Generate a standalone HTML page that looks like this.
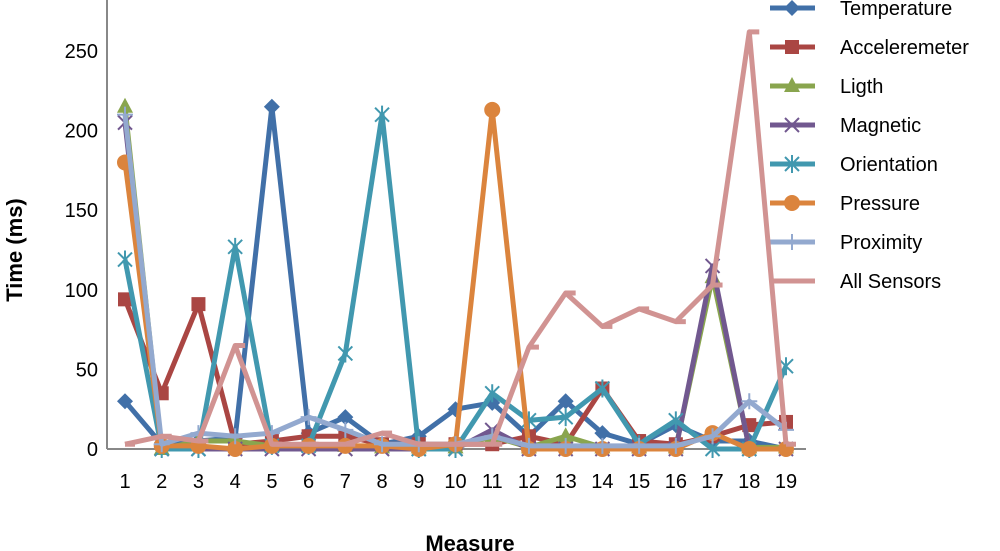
<!DOCTYPE html>
<html><head><meta charset="utf-8"><style>
body{margin:0;background:#fff;}
svg{display:block;font-family:"Liberation Sans",sans-serif;}
</style></head><body>
<svg id="chart" width="1000" height="551">
<g id="grid"></g>
</svg>
<script>
const categories=[1,2,3,4,5,6,7,8,9,10,11,12,13,14,15,16,17,18,19];
const yTicks=[0,50,100,150,200,250];
const seriesNames=["Temperature","Acceleremeter","Ligth","Magnetic","Orientation","Pressure","Proximity","All Sensors"];
const temperature=[30,3,5,7,215,10,20,3,8,25,29,8,30,10,3,15,5,5,0];
const accelerometer=[94,35,91,3,5,8,8,3,3,3,3,8,3,38,5,3,8,15,17];
const light=[215,0,5,5,2,2,2,1,1,1,8,1,8,1,1,1,108,1,1];
const magnetic=[205,0,0,0,0,0,0,0,0,0,12,0,0,0,0,0,115,0,0];
const orientation=[119,0,0,127,2,2,60,210,0,0,35,18,20,38,3,18,0,0,52];
const pressure=[180,2,2,0,2,2,2,2,0,3,213,0,0,0,0,0,10,0,0];
const proximity=[210,3,10,8,10,20,12,3,3,3,8,2,2,2,2,2,8,30,12];
const allSensors=[3,8,5,65,3,3,3,10,3,3,3,64,98,77,88,80,103,262,3];
const colors=["#4170a8","#aa4643","#89a54e","#71588f","#4198af","#db843d","#93a9cf","#d19392"];
const markers=["diamond","square","triangle","x","star","circle","plus","dash"];
const allData=[temperature,accelerometer,light,magnetic,orientation,pressure,proximity,allSensors];
const NS="http://www.w3.org/2000/svg";
const svg=document.getElementById("chart");
const X0=125,X1=786,Y0=449,Y250=51;
const xs=i=>X0+(X1-X0)*i/(categories.length-1);
const ys=v=>Y0-(Y0-Y250)*v/250;
function mk(tag,attrs,parent){const e=document.createElementNS(NS,tag);for(const k in attrs)e.setAttribute(k,attrs[k]);(parent||svg).appendChild(e);return e;}
let ax=mk("path",{d:`M107,${Y0}H806`,stroke:"#888","stroke-width":2,fill:"none"});


let ay=mk("path",{d:`M107,0V${Y0}`,stroke:"#888","stroke-width":2,fill:"none"});


yTicks.forEach(t=>{const e=mk("text",{x:98,y:ys(t)+7,"text-anchor":"end","font-size":20,fill:"#000"});e.textContent=t;

});
categories.forEach((c,i)=>{const e=mk("text",{x:xs(i),y:488,"text-anchor":"middle","font-size":20,fill:"#000"});e.textContent=c;

});
let yt=mk("text",{x:0,y:0,transform:"translate(22,250) rotate(-90)","text-anchor":"middle","font-size":22,"font-weight":"bold"});yt.textContent="Time (ms)";


let xt=mk("text",{x:470,y:551,"text-anchor":"middle","font-size":22,"font-weight":"bold"});xt.textContent="Measure";


function marker(g,type,x,y,c){
  if(type=="diamond")mk("path",{d:`M${x},${y-8}L${x+8},${y}L${x},${y+8}L${x-8},${y}Z`,fill:c},g);
  else if(type=="square")mk("rect",{x:x-7,y:y-7,width:14,height:14,fill:c},g);
  else if(type=="triangle")mk("path",{d:`M${x},${y-9}L${x+8},${y+6}L${x-8},${y+6}Z`,fill:c},g);
  else if(type=="x")mk("path",{d:`M${x-7},${y-7}L${x+7},${y+7}M${x+7},${y-7}L${x-7},${y+7}`,stroke:c,"stroke-width":2},g);
  else if(type=="star")mk("path",{d:`M${x-7},${y-7}L${x+7},${y+7}M${x+7},${y-7}L${x-7},${y+7}M${x},${y-9}V${y+9}`,stroke:c,"stroke-width":2},g);
  else if(type=="circle")mk("circle",{cx:x,cy:y,r:8,fill:c},g);
  else if(type=="plus")mk("path",{d:`M${x-8},${y}H${x+8}M${x},${y-8}V${y+8}`,stroke:c,"stroke-width":2},g);
  else if(type=="dash")mk("path",{d:`M${x},${y}H${x+10}`,stroke:c,"stroke-width":5},g);
}
allData.forEach((arr,s)=>{
  const g=mk("g",{});
  
  
  const d=arr.map((v,i)=>(i?"L":"M")+xs(i)+","+ys(v)).join("");
  mk("path",{d:d,stroke:colors[s],"stroke-width":5,fill:"none","stroke-linejoin":"round"},g);
  arr.forEach((v,i)=>marker(g,markers[s],xs(i),ys(v),colors[s]));
  const ly=8+39*s;
  const lg=mk("g",{});
  
  
  mk("path",{d:`M770,${ly}H815`,stroke:colors[s],"stroke-width":5},lg);
  marker(lg,markers[s],792,ly,colors[s]);
  const t=mk("text",{x:840,y:ly+7,"font-size":20,fill:"#000"},lg);t.textContent=seriesNames[s];
});
</script>
</body></html>
